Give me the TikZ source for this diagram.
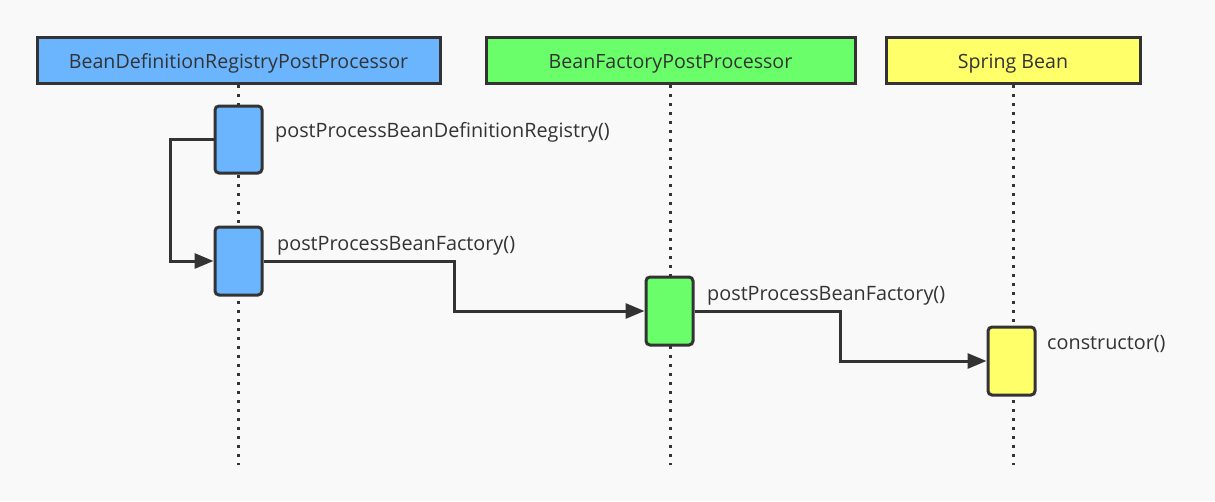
\documentclass[tikz,border=0pt]{standalone}
\usepackage{fontspec}
\setmainfont{Open Sans}
\usetikzlibrary{arrows.meta}
\definecolor{bg}{HTML}{F9F9F9}
\definecolor{ln}{HTML}{333333}
\definecolor{cblue}{HTML}{6BB5FF}
\definecolor{cgreen}{HTML}{6AFF6A}
\definecolor{cyellow}{HTML}{FFFF6A}
\tikzset{
  head/.style={draw=ln, line width=3pt, minimum height=46pt, inner sep=0pt, text height=16pt, text depth=0pt, font=\fontsize{19.6}{22}\selectfont, text=ln},
  act/.style={draw=ln, line width=3pt, rounded corners=4pt, minimum width=47pt, inner sep=0pt},
  life/.style={draw=ln, line width=3pt, dash pattern=on 3pt off 6pt},
  msg/.style={draw=ln, line width=3pt, -{Triangle[length=19pt,width=15pt]}},
  lbl/.style={anchor=base west, inner sep=0pt, font=\fontsize{19.8}{22}\selectfont, text=ln},
}
\begin{document}
\begin{tikzpicture}[x=1pt,y=-1pt]
\fill[bg] (0,0) rectangle (1215,501);
\useasboundingbox (0,0) rectangle (1215,501);
% lifelines
\draw[life] (238,85) -- (238,465);
\draw[life] (670,85) -- (670,465);
\draw[life] (1013,85) -- (1013,465);
% headers
\node[head, fill=cblue, minimum width=403pt] (h1) at (238.5,60) {BeanDefinitionRegistryPostProcessor};
\node[head, fill=cgreen, minimum width=369pt] (h2) at (670.5,60) {BeanFactoryPostProcessor};
\node[head, fill=cyellow, minimum width=254pt] (h3) at (1013,60) {Spring Bean};
% activations
\node[act, fill=cblue, minimum height=67pt] (a1) at (238.5,139.5) {};
\node[act, fill=cblue, minimum height=68pt] (a2) at (238.5,261) {};
\node[act, fill=cgreen, minimum height=68pt] (a3) at (669.5,311) {};
\node[act, fill=cyellow, minimum height=68pt] (a4) at (1011.5,361) {};
% messages
\draw[msg] (a1.west) -- (170,139.5) |- (a2.west);
\draw[msg] (a2.east) -- (454,261) |- (a3.west);
\draw[msg] (a3.east) -- (840,311) |- (a4.west);
% labels
\node[lbl] (l1) at (275,137) {postProcessBeanDefinitionRegistry()};
\node[lbl] (l2) at (277,250) {postProcessBeanFactory()};
\node[lbl] (l3) at (707,300) {postProcessBeanFactory()};
\node[lbl] (l4) at (1047,349) {constructor()};
\end{tikzpicture}
\end{document}
